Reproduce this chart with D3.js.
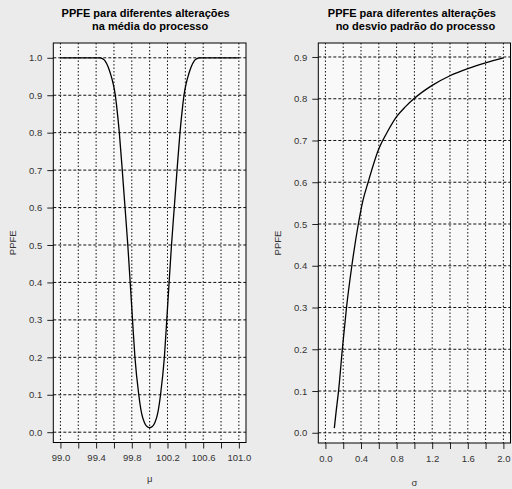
<!DOCTYPE html>
<html>
<head>
<meta charset="utf-8">
<script src="https://cdn.jsdelivr.net/npm/d3@7"></script>
<style>
  body { margin: 0; background: #ebebeb; }
  svg { display: block; font-family: "Liberation Sans", Arial, sans-serif; }
</style>
</head>
<body>
<svg id="chart" width="512" height="489"></svg>
<script>
// values
var muValues = [99.0, 99.2, 99.4, 99.44, 99.475, 99.5, 99.534, 99.56, 99.59, 99.615, 99.631, 99.647, 99.66,
                99.693, 99.724, 99.755, 99.782, 99.808, 99.835, 99.878, 99.91, 99.942, 99.97, 100.0,
                100.03, 100.058, 100.09, 100.122, 100.165, 100.192, 100.218, 100.245, 100.276, 100.307,
                100.34, 100.353, 100.369, 100.385, 100.41, 100.44, 100.466, 100.5, 100.525, 100.56,
                100.6, 100.8, 101.0];
var ppfeMu = [1.0, 1.0, 1.0, 1.0, 0.997, 0.992, 0.976, 0.958, 0.932, 0.90, 0.869, 0.833, 0.80,
              0.70, 0.60, 0.50, 0.40, 0.30, 0.20, 0.10, 0.05, 0.025, 0.015, 0.012,
              0.015, 0.025, 0.05, 0.10, 0.20, 0.30, 0.40, 0.50, 0.60, 0.70,
              0.80, 0.833, 0.869, 0.90, 0.932, 0.958, 0.976, 0.992, 0.997, 1.0,
              1.0, 1.0, 1.0];

var sigmaValues = [0.1, 0.12, 0.15, 0.19, 0.237, 0.297, 0.37, 0.42, 0.48, 0.6, 0.7, 0.8, 0.9, 1.0, 1.2, 1.4, 1.6, 1.8, 2.0];
var ppfeSigma = [0.011, 0.05, 0.105, 0.20, 0.30, 0.40, 0.50, 0.555, 0.60, 0.68, 0.722, 0.757, 0.781, 0.801,
                 0.832, 0.855, 0.872, 0.886, 0.898];

var muTicks = [99.0, 99.2, 99.4, 99.6, 99.8, 100.0, 100.2, 100.4, 100.6, 100.8, 101.0];
var muLabels = [99.0, 99.4, 99.8, 100.2, 100.6, 101.0];
var sigmaTicks = [0, 0.2, 0.4, 0.6, 0.8, 1.0, 1.2, 1.4, 1.6, 1.8, 2.0];
var sigmaLabels = [0, 0.4, 0.8, 1.2, 1.6, 2.0];
var ppfeTicksMu = [0, 0.1, 0.2, 0.3, 0.4, 0.5, 0.6, 0.7, 0.8, 0.9, 1.0];
var ppfeTicksSigma = [0, 0.1, 0.2, 0.3, 0.4, 0.5, 0.6, 0.7, 0.8, 0.9];

var svg = d3.select("#chart");

// R style 4% padding of a range
function pad(lim) {
  var d = (lim[1] - lim[0]) * 0.04;
  return [lim[0] - d, lim[1] + d];
}

function panel(opt) {
  var box = opt.box;
  var x = d3.scaleLinear().domain(pad(opt.xlim)).range([box.x0, box.x1]);
  var y = d3.scaleLinear().domain(pad(d3.extent(opt.yv))).range([box.y1, box.y0]);

  svg.append("rect")
    .attr("x", box.x0).attr("y", box.y0)
    .attr("width", box.x1 - box.x0).attr("height", box.y1 - box.y0)
    .attr("fill", "#f9f9f9");

  // grid
  svg.append("g").selectAll("line")
    .data(opt.xTicks)
    .enter().append("line")
      .attr("x1", function(d) { return x(d); }).attr("x2", function(d) { return x(d); })
      .attr("y1", box.y0).attr("y2", box.y1)
      .attr("stroke", "#111").attr("stroke-width", 1)
      .attr("stroke-dasharray", "1.5,2");
  svg.append("g").selectAll("line")
    .data(opt.yTicks)
    .enter().append("line")
      .attr("x1", box.x0).attr("x2", box.x1)
      .attr("y1", function(d) { return y(d); }).attr("y2", function(d) { return y(d); })
      .attr("stroke", "#111").attr("stroke-width", 1)
      .attr("stroke-dasharray", "3,2");

  // axes
  var xAxis = d3.axisBottom(x).tickValues(opt.xTicks).tickSize(6).tickPadding(6)
    .tickFormat(function(d) {
      return opt.xLabels.some(function(v) { return Math.abs(v - d) < 1e-9; }) ? d.toFixed(1) : "";
    });
  var gx = svg.append("g")
    .attr("transform", "translate(0," + box.y1 + ")")
    .call(xAxis);
  gx.select(".domain").remove();

  var yAxis = d3.axisLeft(y).tickValues(opt.yTicks).tickSize(6).tickPadding(5)
    .tickFormat(d3.format(".1f"));
  var gy = svg.append("g")
    .attr("transform", "translate(" + box.x0 + ",0)")
    .call(yAxis);
  gy.select(".domain").remove();

  [gx, gy].forEach(function(g) {
    g.selectAll("text").attr("font-size", 9.5).attr("fill", "#333").attr("font-family", "Liberation Sans, Arial, sans-serif");
    g.selectAll("line").attr("stroke", "#222");
  });

  // curve
  var line = d3.line()
    .x(function(d, i) { return x(opt.xv[i]); })
    .y(function(d) { return y(d); })
    .curve(d3.curveMonotoneX);
  svg.append("path")
    .datum(opt.yv)
    .attr("d", line)
    .attr("fill", "none")
    .attr("stroke", "#000")
    .attr("stroke-width", 1.3);

  // box
  svg.append("rect")
    .attr("x", box.x0).attr("y", box.y0)
    .attr("width", box.x1 - box.x0).attr("height", box.y1 - box.y0)
    .attr("fill", "none").attr("stroke", "#000").attr("stroke-width", 1);

  // titles
  var cx = (box.x0 + box.x1) / 2;
  svg.append("text").attr("x", cx + opt.t1dx).attr("y", 17)
    .attr("text-anchor", "middle").attr("font-size", 11).attr("font-weight", "bold")
    .text(opt.title[0]);
  svg.append("text").attr("x", cx + opt.t2dx).attr("y", 29.5)
    .attr("text-anchor", "middle").attr("font-size", 11).attr("font-weight", "bold")
    .text(opt.title[1]);

  svg.append("text").attr("x", cx).attr("y", opt.xlabY)
    .attr("text-anchor", "middle").attr("font-size", 9.5).attr("fill", "#333")
    .text(opt.xlab);

  var cy = (box.y0 + box.y1) / 2;
  svg.append("text")
    .attr("transform", "translate(" + opt.ylabX + "," + cy + ") rotate(-90)")
    .attr("text-anchor", "middle").attr("font-size", 9.5).attr("fill", "#333")
    .text("PPFE");
}

panel({
  box: {x0: 53.3, x1: 246, y0: 43, y1: 442.5},
  xlim: [99, 101], xv: muValues, yv: ppfeMu,
  xTicks: muTicks, xLabels: muLabels, yTicks: ppfeTicksMu,
  title: ["PPFE para diferentes alterações", "na média do processo"], t1dx: -4, t2dx: 0.5,
  xlab: "μ", xlabY: 481.5, ylabX: 16
});

panel({
  box: {x0: 318.3, x1: 510.5, y0: 43, y1: 443},
  xlim: [0, 2], xv: sigmaValues, yv: ppfeSigma,
  xTicks: sigmaTicks, xLabels: sigmaLabels, yTicks: ppfeTicksSigma,
  title: ["PPFE para diferentes alterações", "no desvio padrão do processo"], t1dx: -2.5, t2dx: 1,
  xlab: "σ", xlabY: 486, ylabX: 281
});
</script>
</body>
</html>
